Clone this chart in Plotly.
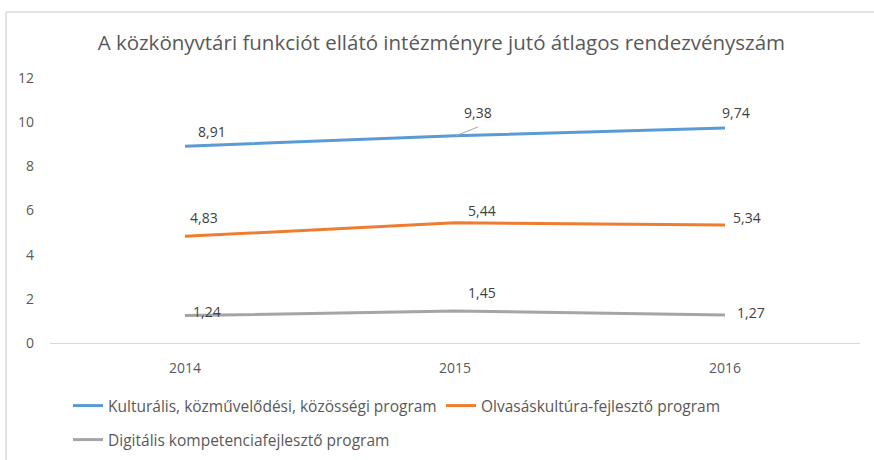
import plotly.graph_objects as go

# Chart data
years = ["2014", "2015", "2016"]
series_names = [
    "Kulturális, közművelődési, közösségi program",
    "Olvasáskultúra-fejlesztő program",
    "Digitális kompetenciafejlesztő program",
]
kulturalis = [8.91, 9.38, 9.74]
olvasaskultura = [4.83, 5.44, 5.34]
digitalis = [1.24, 1.45, 1.27]
y_ticks = [0, 2, 4, 6, 8, 10, 12]
title_text = "A közkönyvtári funkciót ellátó intézményre jutó átlagos rendezvényszám"

series_values = [kulturalis, olvasaskultura, digitalis]
colors = ["#5B9BD5", "#ED7D31", "#A5A5A5"]
legend_ids = ["legend", "legend", "legend2"]

# label offsets (pixels) relative to each point, per series
label_offsets = [
    [(27, 15), (23, 23), (11, 15)],
    [(19, 19), (27, 12), (22, 8)],
    [(22, 4), (27, 18), (26, 2)],
]

FONT = "Open Sans, sans-serif"
W, H = 874, 460
L, R, T, B = 50, 14, 78, 117
PW, PH = W - L - R, H - T - B


def px_x(p):
    return (p - L) / PW


def px_y(p):
    return (H - B - p) / PH


fig = go.Figure()
for name, vals, col, lg in zip(series_names, series_values, colors, legend_ids):
    fig.add_trace(go.Scatter(
        x=list(range(len(years))), y=vals, name=name, mode="lines",
        line=dict(color=col, width=3),
        hoverinfo="skip", legend=lg,
    ))

annotations = []
for vals, offs in zip(series_values, label_offsets):
    for i, (v, (dx, dy)) in enumerate(zip(vals, offs)):
        annotations.append(dict(
            x=i, y=v, xref="x", yref="y",
            text=f"{v:.2f}".replace(".", ","),
            showarrow=False, xshift=dx, yshift=dy,
            font=dict(family=FONT, size=14, color="#404040"),
        ))

shapes = [
    # chart frame (left and top edges)
    dict(type="line", xref="paper", yref="paper",
         x0=px_x(6), x1=px_x(6), y0=px_y(12), y1=px_y(480),
         line=dict(color="#D9D9D9", width=1.5)),
    dict(type="line", xref="paper", yref="paper",
         x0=px_x(6), x1=px_x(890), y0=px_y(12), y1=px_y(12),
         line=dict(color="#D9D9D9", width=1.5)),
    # leader line for the 2015 label of the first series
    dict(type="line", xref="x", yref="y",
         xsizemode="pixel", ysizemode="pixel",
         xanchor=1, yanchor=kulturalis[1],
         x0=1, x1=23, y0=0, y1=9,
         line=dict(color="#A6A6A6", width=1)),
]

legend_font = dict(family=FONT, size=15.5, color="#595959")

fig.update_layout(
    width=W, height=H,
    margin=dict(l=L, r=R, t=T, b=B, autoexpand=False),
    paper_bgcolor="white", plot_bgcolor="white",
    separators=", ",
    title=dict(text=title_text, x=0.505, xanchor="center",
               y=1 - 43 / H, yanchor="middle", yref="container",
               font=dict(family=FONT, size=20.5, color="#595959")),
    xaxis=dict(range=[-0.5, 2.5], tickvals=list(range(len(years))),
               ticktext=years, showgrid=False,
               showline=True, linecolor="#D9D9D9", linewidth=1,
               ticks="", zeroline=False, ticklabelstandoff=12,
               tickfont=dict(family=FONT, size=14, color="#595959")),
    yaxis=dict(range=[0, 12], tickvals=y_ticks, showgrid=False,
               zeroline=False, showline=False, ticks="",
               ticklabelstandoff=15,
               tickfont=dict(family=FONT, size=14, color="#595959")),
    legend=dict(orientation="h", x=px_x(68), xanchor="left",
                y=px_y(389), yanchor="top", font=legend_font,
                entrywidth=328, entrywidthmode="pixels"),
    legend2=dict(orientation="h", x=px_x(68), xanchor="left",
                 y=px_y(423), yanchor="top", font=legend_font),
    annotations=annotations,
    shapes=shapes,
)

fig.write_html("out.html")
